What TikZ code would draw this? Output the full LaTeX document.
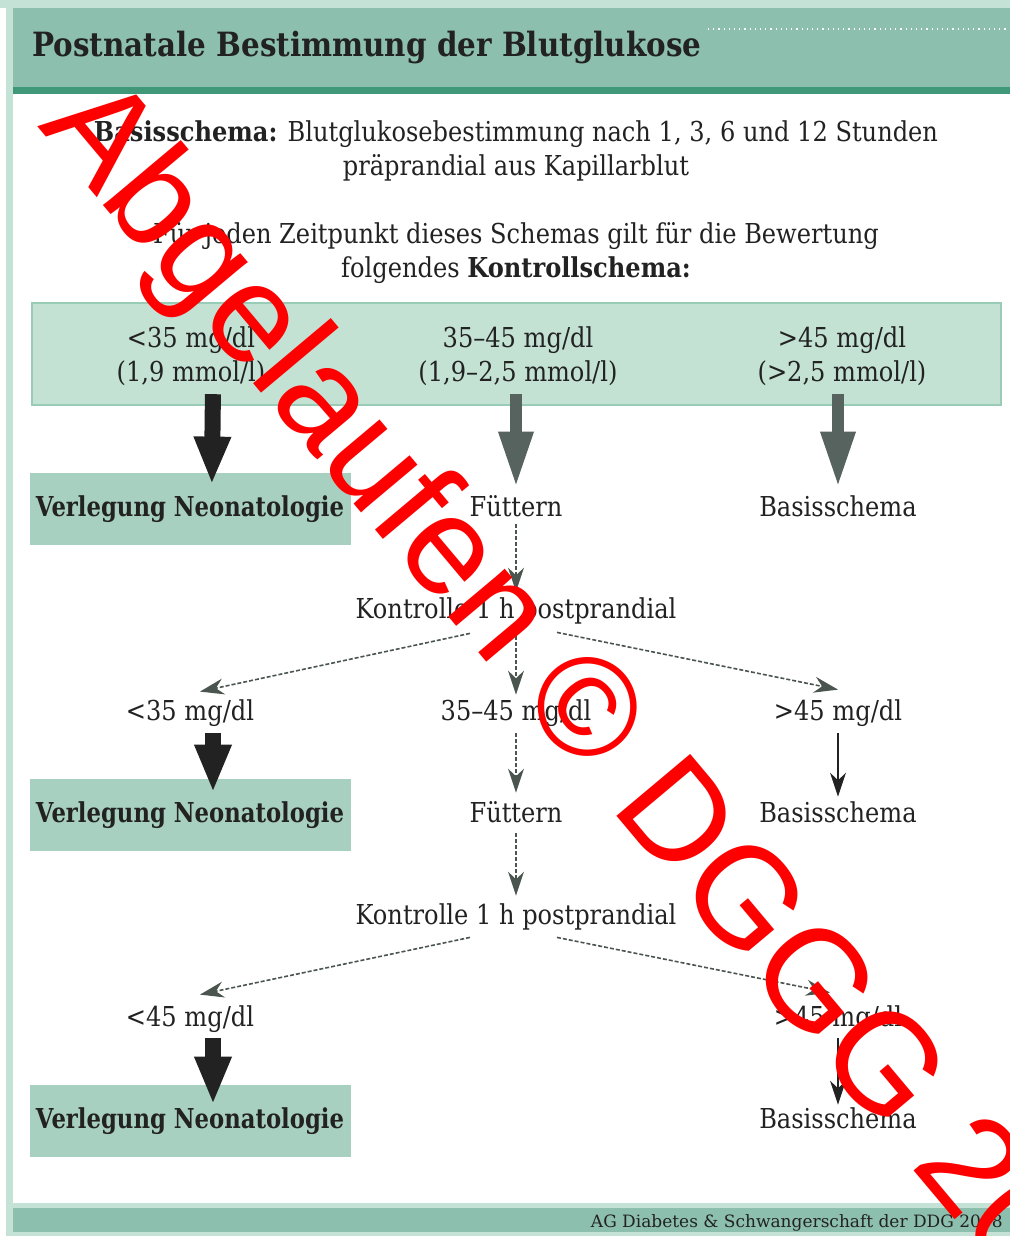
\documentclass[tikz,border=0pt]{standalone}
\usepackage{fontspec}
\setmainfont{DejaVu Serif}[FakeStretch=0.88]
\newfontfamily\neofont{DejaVu Serif}[FakeStretch=0.83]
\newfontfamily\footfont{DejaVu Serif}
\newfontfamily\stampfont{Liberation Sans}
\usetikzlibrary{arrows.meta,positioning}

\definecolor{headgreen}{HTML}{8CBFAE}
\definecolor{darkgreen}{HTML}{3F9878}
\definecolor{palegreen}{HTML}{C4E2D5}
\definecolor{boxgreen}{HTML}{C3E2D4}
\definecolor{boxedge}{HTML}{98CCB6}
\definecolor{neogreen}{HTML}{A8D0C1}
\definecolor{arrowgray}{HTML}{56635F}
\definecolor{dashgray}{HTML}{4A5550}
\definecolor{ink}{HTML}{222222}

\begin{document}
\begin{tikzpicture}[x=0.5pt,y=-0.5pt,>=Stealth,node distance=51pt]
  \tikzstyle{txt}=[inner sep=0pt,text height=10pt,text depth=3pt,
                   font=\fontsize{13.7}{17}\selectfont,text=ink]
  \tikzstyle{neo}=[txt,fill=neogreen,minimum width=160.5pt,minimum height=36pt,
                   font=\fontsize{13.7}{17}\selectfont\neofont\bfseries]
  \tikzstyle{bigbox}=[fill=boxgreen,draw=boxedge,line width=0.6pt,
                      minimum width=484.5pt,minimum height=51pt]
  \tikzstyle{fat}=[line width=8pt,-{Triangle[length=24pt,width=17pt]},draw=ink]
  \tikzstyle{fatgray}=[line width=6pt,-{Triangle[length=28pt,width=16pt]},draw=arrowgray]
  \tikzstyle{flow}=[-{Stealth[length=12pt,width=8pt]},draw=dashgray,
                    line width=0.8pt,dash pattern=on 2pt off 1pt]
  \tikzstyle{plain}=[-{Stealth[length=12pt,width=8pt]},draw=ink,line width=0.6pt]
  \tikzstyle{stamp}=[text=red,inner sep=0pt,font=\stampfont\fontsize{70}{70}\selectfont]

  % frame, header and footer bands
  \useasboundingbox (0,0) rectangle (1010,1236);
  \fill[white] (0,0) rectangle (1010,1236);
  \fill[palegreen] (0,0) rectangle (1010,8);
  \fill[palegreen] (6,8) rectangle (13,1236);
  \fill[headgreen] (13,8) rectangle (1010,87);
  \fill[darkgreen] (13,87) rectangle (1010,94);
  \draw[white,dotted,line width=0.6pt] (708,29) -- (1010,29);
  \fill[palegreen] (13,1203) rectangle (1010,1208);
  \fill[headgreen] (13,1208) rectangle (1010,1232);
  \fill[palegreen] (13,1232) rectangle (1010,1236);

  \node[anchor=base west,inner sep=0pt,text=ink,font=\fontsize{16.7}{20}\selectfont\bfseries]
       (title) at (32,57) {Postnatale Bestimmung der Blutglukose};

  \node[txt] (intro1) at (516,134)
       {\textbf{Basisschema:} Blutglukosebestimmung nach 1, 3, 6 und 12 Stunden};
  \node[txt] (intro2) at (516,168) {präprandial aus Kapillarblut};
  \node[txt] (intro3) at (516,236) {Für jeden Zeitpunkt dieses Schemas gilt für die Bewertung};
  \node[txt] (intro4) at (516,270) {folgendes \textbf{Kontrollschema:}};

  % control scheme
  \node[bigbox] (box) at (516.5,354) {};
  \node[txt] (lo1a) at (191,340) {<35 mg/dl};
  \node[txt,below=4pt of lo1a] (lo1b) {(1,9 mmol/l)};
  \node[txt,right of=lo1a,node distance=163.5pt] (mi1a) {35--45 mg/dl};
  \node[txt,below=4pt of mi1a] (mi1b) {(1,9--2,5 mmol/l)};
  \node[txt,right of=mi1a,node distance=162pt] (hi1a) {>45 mg/dl};
  \node[txt,below=4pt of hi1a] (hi1b) {(>2,5 mmol/l)};

  \node[txt] (fu1) at (516,509) {Füttern};
  \node[neo,left of=fu1,node distance=163pt] (nv1) {Verlegung Neonatologie};
  \node[txt,right of=fu1,node distance=161pt] (ba1) {Basisschema};
  \node[txt,below of=fu1] (ko1) {Kontrolle 1 h postprandial};
  \node[txt,below of=ko1] (mi2) {35--45 mg/dl};
  \node[txt,left of=mi2,node distance=163pt] (lt2) {<35 mg/dl};
  \node[txt,right of=mi2,node distance=161pt] (hi2) {>45 mg/dl};
  \node[txt,below of=mi2] (fu2) {Füttern};
  \node[neo,left of=fu2,node distance=163pt] (nv2) {Verlegung Neonatologie};
  \node[txt,right of=fu2,node distance=161pt] (ba2) {Basisschema};
  \node[txt,below of=fu2] (ko2) {Kontrolle 1 h postprandial};
  \node[txt,below of=nv2,node distance=102pt] (lt3) {<45 mg/dl};
  \node[txt,below of=ba2,node distance=102pt] (hi3) {>45 mg/dl};
  \node[neo,below of=lt3] (nv3) {Verlegung Neonatologie};
  \node[txt,below of=hi3] (ba3) {Basisschema};

  \draw[fat,shorten <=3pt,shorten >=-6pt] ([xshift=11pt]lo1b.south) -- ([xshift=11pt]nv1.north);
  \draw[fatgray,shorten <=3pt,shorten >=4pt] (mi1b.south -| fu1.north) -- (fu1.north);
  \draw[fatgray,shorten <=3pt,shorten >=4pt] (hi1b.south -| ba1.north) -- (ba1.north);

  \draw[flow,shorten <=1pt,shorten >=3pt] (fu1) -- (ko1);
  \draw[flow] ([xshift=-23pt,yshift=-4.5pt]ko1.south) -- ([xshift=5pt,yshift=4pt]lt2.north);
  \draw[flow,shorten >=2.5pt] (ko1) -- (mi2);
  \draw[flow] ([xshift=20.5pt,yshift=-4pt]ko1.south) -- ([yshift=5pt]hi2.north);

  \draw[fat,shorten <=3.5pt,shorten >=-7pt] ([xshift=11.5pt]lt2.south) -- ([xshift=11.5pt]nv2.north);
  \draw[flow,shorten <=3.5pt,shorten >=4.5pt] (mi2) -- (fu2);
  \draw[plain,shorten <=3.5pt,shorten >=2.5pt] (hi2) -- (ba2);
  \draw[flow,shorten <=2.5pt,shorten >=4pt] (fu2) -- (ko2);

  \draw[flow] ([xshift=-23pt,yshift=-3.5pt]ko2.south) -- ([xshift=5pt,yshift=5.5pt]lt3.north);
  \draw[flow] ([xshift=20.5pt,yshift=-3.5pt]ko2.south) -- ([xshift=-4pt,yshift=6.5pt]hi3.north);
  \draw[fat,shorten <=3pt,shorten >=-10pt] ([xshift=11.5pt]lt3.south) -- ([xshift=11.5pt]nv3.north);
  \draw[plain,shorten <=3pt,shorten >=1.5pt] (hi3) -- (ba3);

  \node[anchor=base east,inner sep=0pt,text=ink,font=\footfont\fontsize{8.5}{10}\selectfont]
       (foot) at (1003,1227) {AG Diabetes \& Schwangerschaft der DDG 2008};

  % watermark
  \begin{scope}
    \clip (0,0) rectangle (1010,1236);
    \node[stamp,rotate=-50,anchor=west] (wm) at (65,103) {Abgelaufen © DGGG 20};
  \end{scope}
\end{tikzpicture}
\end{document}
